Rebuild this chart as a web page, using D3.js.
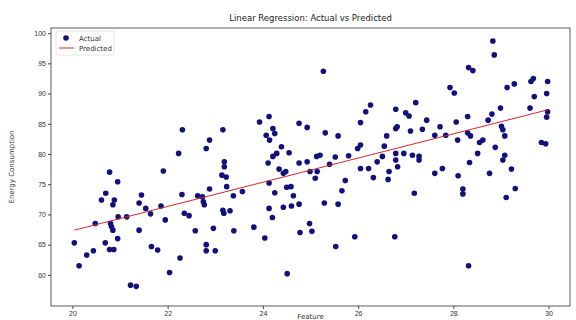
<!DOCTYPE html>
<html>
<head>
<meta charset="utf-8">
<script src="https://cdn.jsdelivr.net/npm/d3@7"></script>
<style>
  body { margin: 0; background: #fff; }
  svg { display: block; font-family: "DejaVu Sans", sans-serif; }
  .tick text { fill: #333; font-size: 7px; }
  .tick line { stroke: #444; }
  .domain { stroke: none; }
</style>
</head>
<body>
<script>
// Actual points (Feature, Energy Consumption)
const featureX = [
  22.31, 22.23, 20.78, 20.95, 21.91, 20.70, 20.61, 20.88, 20.85, 21.45,
  21.40, 21.54, 21.64, 21.86, 22.30, 20.96, 21.14, 20.48, 20.80, 20.82,
  20.85, 21.40, 21.95, 20.95, 20.04, 20.69, 21.66, 21.79, 20.78, 20.87,
  20.44, 20.30, 20.14, 22.26, 22.04, 21.22, 21.34,
  23.16, 22.88, 22.81, 23.93, 24.13, 24.21, 24.25, 24.07, 24.14, 24.76,
  24.39, 24.29, 24.21, 24.55, 24.11, 23.19, 24.76,
  23.19, 23.14, 23.23, 23.24, 22.88, 22.63, 22.73, 22.75, 22.77, 22.35,
  22.45, 23.16, 23.18, 23.31, 23.38, 23.57, 24.13, 24.25, 24.50, 24.59,
  24.64, 24.76, 24.60, 24.43, 24.13, 24.20, 24.78, 22.58, 22.96, 23.39,
  23.81, 24.04, 22.81, 22.81, 23.00, 24.51, 24.34, 24.43, 24.48,
  25.27, 24.93, 25.31, 25.58, 26.05, 26.16, 26.26, 26.79, 27.00, 27.07,
  27.21, 26.82, 26.79, 27.10, 27.35, 26.60, 26.55, 26.05, 25.99, 25.20,
  25.13, 25.52, 25.80, 24.93, 25.40, 26.51, 26.40, 26.79, 26.79, 26.96,
  27.14, 27.28, 27.28,
  24.99, 25.14, 25.10, 26.05, 26.22, 26.32, 26.65, 26.63, 26.83, 25.73,
  25.66, 25.29, 25.58, 27.18, 24.98, 25.03, 25.93, 26.77, 25.53,
  28.83, 28.86, 28.32, 28.41, 27.93, 28.02, 29.13, 29.28, 29.63, 29.68,
  29.98, 29.96, 29.70, 29.61, 29.98, 29.96, 28.99, 28.81, 28.73, 28.30,
  28.06, 27.44, 27.72, 27.61, 27.84, 28.30, 28.36, 28.09, 29.01, 29.04,
  29.08, 28.62, 28.55, 28.88, 28.51, 29.85, 29.94, 29.08, 29.04, 28.34,
  27.61, 27.77, 28.10, 28.76, 29.22, 28.20, 28.20, 29.30, 29.11, 28.32
];
const energyY = [
  84.0, 80.1, 77.0, 75.4, 77.2, 73.5, 72.4, 72.4, 71.6, 73.2,
  71.9, 71.0, 70.1, 71.4, 73.3, 69.6, 69.6, 68.5, 68.5, 68.0,
  67.4, 67.4, 69.1, 66.0, 65.3, 65.3, 64.7, 64.1, 64.2, 64.2,
  64.0, 63.3, 61.5, 62.8, 60.4, 58.3, 58.1,
  84.0, 82.3, 80.9, 85.3, 86.2, 84.2, 83.4, 83.1, 82.3, 85.1,
  81.2, 80.1, 79.6, 80.2, 78.5, 78.7, 78.5,
  77.9, 76.5, 76.2, 74.6, 74.2, 73.1, 72.9, 72.1, 71.6, 70.2,
  69.8, 70.7, 70.2, 70.6, 73.1, 73.8, 75.2, 73.6, 74.5, 74.6,
  73.1, 71.7, 71.4, 71.2, 71.0, 69.5, 67.0, 67.3, 67.7, 67.3,
  67.9, 66.1, 65.0, 64.0, 64.0, 60.2, 77.5, 76.8, 77.1,
  93.7, 84.4, 83.5, 83.0, 85.2, 87.0, 88.1, 87.4, 86.8, 86.3,
  88.5, 84.5, 84.2, 83.8, 84.1, 83.0, 81.3, 81.5, 80.9, 79.8,
  79.6, 79.5, 79.7, 78.7, 78.3, 79.6, 78.7, 80.1, 79.0, 80.1,
  79.8, 79.6, 79.0,
  77.1, 77.1, 76.0, 77.6, 77.6, 76.1, 77.1, 75.8, 77.9, 75.6,
  73.9, 71.9, 71.7, 73.5, 68.5, 67.2, 66.3, 66.3, 64.7,
  98.7, 96.4, 94.3, 93.8, 91.0, 90.1, 91.0, 91.6, 92.0, 92.5,
  92.0, 90.0, 89.5, 87.6, 87.0, 86.1, 87.6, 86.6, 85.6, 86.2,
  85.3, 85.6, 84.5, 83.1, 83.1, 83.5, 83.0, 82.3, 84.6, 84.0,
  83.0, 82.3, 81.9, 81.1, 80.1, 81.9, 81.7, 79.8, 79.0, 78.6,
  76.8, 77.6, 76.4, 76.8, 77.5, 74.2, 73.4, 74.3, 72.8, 61.5
];
// Predicted line end points
const predictedX = [20.04, 29.98];
const predictedY = [67.4, 87.3];

const xTicks = [20, 22, 24, 26, 28, 30];
const yTicks = [60, 65, 70, 75, 80, 85, 90, 95, 100];

const width = 576, height = 320;
const margin = { top: 28, right: 6, bottom: 14, left: 51 };

const svg = d3.select("body").append("svg")
  .attr("width", width)
  .attr("height", height);

const x = d3.scaleLinear()
  .domain([19.55, 30.45])
  .range([margin.left, width - margin.right]);

const y = d3.scaleLinear()
  .domain([54.85, 100.85])
  .range([height - margin.bottom, margin.top]);

const points = featureX.map((fx, i) => ({ x: fx, y: energyY[i] }));
const line = predictedX.map((px, i) => ({ x: px, y: predictedY[i] }));

// axes
svg.append("g")
  .attr("transform", `translate(0,${height - margin.bottom})`)
  .call(d3.axisBottom(x).tickValues(xTicks).tickSize(3).tickPadding(2).tickFormat(d3.format("d")));

svg.append("g")
  .attr("transform", `translate(${margin.left},0)`)
  .call(d3.axisLeft(y).tickValues(yTicks).tickSize(3).tickPadding(2).tickFormat(d3.format("d")));

// plot frame
svg.append("rect")
  .attr("x", margin.left)
  .attr("y", margin.top)
  .attr("width", width - margin.left - margin.right)
  .attr("height", height - margin.top - margin.bottom)
  .attr("fill", "none")
  .attr("stroke", "#333")
  .attr("stroke-width", 0.8);

// scatter
svg.append("g")
  .selectAll("circle")
  .data(points)
  .join("circle")
  .attr("cx", d => x(d.x))
  .attr("cy", d => y(d.y))
  .attr("r", 2.8)
  .attr("fill", "#12107a");

// regression line
svg.append("path")
  .datum(line)
  .attr("fill", "none")
  .attr("stroke", "#d02a2a")
  .attr("stroke-width", 1)
  .attr("d", d3.line().x(d => x(d.x)).y(d => y(d.y)));

// title and labels
svg.append("text")
  .attr("x", (margin.left + width - margin.right) / 2)
  .attr("y", 21)
  .attr("text-anchor", "middle")
  .attr("font-size", 8.5)
  .attr("fill", "#222")
  .text("Linear Regression: Actual vs Predicted");

svg.append("text")
  .attr("transform", `translate(14,${(margin.top + height - margin.bottom) / 2}) rotate(-90)`)
  .attr("text-anchor", "middle")
  .attr("font-size", 7)
  .attr("fill", "#333")
  .text("Energy Consumption");

svg.append("text")
  .attr("x", (margin.left + width - margin.right) / 2)
  .attr("y", 318.5)
  .attr("text-anchor", "middle")
  .attr("font-size", 7)
  .attr("fill", "#333")
  .text("Feature");

// legend
const lg = svg.append("g").attr("transform", `translate(${margin.left + 5},${margin.top + 3})`);
lg.append("rect")
  .attr("width", 58).attr("height", 24).attr("rx", 2)
  .attr("fill", "#fff").attr("fill-opacity", 0.8)
  .attr("stroke", "#ddd").attr("stroke-width", 0.8);
lg.append("circle").attr("cx", 10).attr("cy", 7).attr("r", 2.8).attr("fill", "#12107a");
lg.append("text").attr("x", 23).attr("y", 9.5).attr("font-size", 7).attr("fill", "#333").text("Actual");
lg.append("line").attr("x1", 3).attr("x2", 18).attr("y1", 17).attr("y2", 17)
  .attr("stroke", "#d02a2a").attr("stroke-width", 1);
lg.append("text").attr("x", 23).attr("y", 19.5).attr("font-size", 7).attr("fill", "#333").text("Predicted");
</script>
</body>
</html>
